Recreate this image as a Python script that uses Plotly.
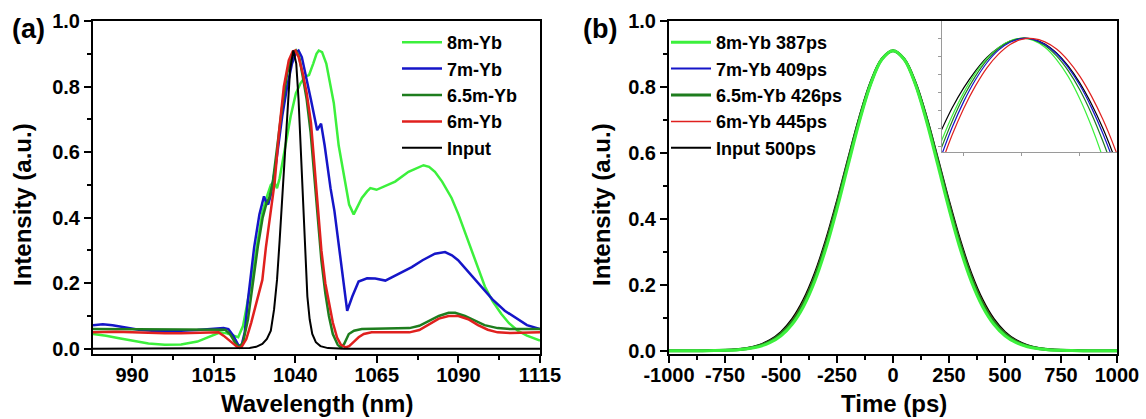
import plotly.graph_objects as go

# ---------------- Panel (a): spectra ----------------
series_a = ["8m-Yb", "7m-Yb", "6.5m-Yb", "6m-Yb", "Input"]

wl_8m = [978, 982, 986, 990, 995, 1000, 1005, 1010, 1014, 1017, 1019, 1021, 1022.5, 1024, 1025.5,
         1027, 1028.5, 1030, 1031.5, 1032.5, 1033.5, 1034.4, 1035.2, 1036.5, 1038.6, 1040.2, 1041.6,
         1043, 1044.2, 1045.5, 1046.5, 1047.2, 1048.2, 1049.5, 1050.5, 1051.8, 1053.3, 1055, 1056.5,
         1057.9, 1059, 1060.4, 1062, 1063, 1064.9, 1067, 1070.6, 1074.7, 1077, 1079.3, 1081, 1082.8,
         1085, 1087.9, 1090, 1093, 1095.5, 1098.1, 1100.5, 1103.1, 1105.5, 1108.2, 1111, 1115]
int_8m = [0.045, 0.040, 0.032, 0.024, 0.016, 0.012, 0.013, 0.022, 0.037, 0.050, 0.047, 0.040, 0.035,
          0.070, 0.150, 0.230, 0.330, 0.420, 0.470, 0.500, 0.510, 0.490, 0.520, 0.590, 0.710, 0.780,
          0.810, 0.830, 0.835, 0.870, 0.900, 0.910, 0.905, 0.870, 0.820, 0.750, 0.620, 0.520, 0.440,
          0.410, 0.430, 0.460, 0.480, 0.490, 0.485, 0.495, 0.510, 0.540, 0.550, 0.560, 0.555, 0.540,
          0.510, 0.460, 0.410, 0.330, 0.260, 0.190, 0.145, 0.107, 0.078, 0.055, 0.040, 0.025]

wl_7m = [978, 981, 984, 988, 992, 996, 1000, 1005, 1010, 1015, 1018, 1019.5, 1021, 1022.5, 1023.5,
         1024.5, 1025.5, 1027.4, 1029, 1030.4, 1031, 1031.7, 1032.5, 1034, 1036, 1037.5, 1039, 1040.3,
         1041, 1042, 1043.2, 1044.8, 1046.7, 1047.9, 1049, 1050.8, 1052, 1054, 1055.9, 1057.5, 1059.4,
         1062, 1064.5, 1067.6, 1071, 1075.7, 1079, 1082.8, 1085.9, 1088, 1089.9, 1093, 1097, 1100.5,
         1104.2, 1108, 1111, 1115]
int_7m = [0.072, 0.075, 0.072, 0.064, 0.058, 0.055, 0.054, 0.055, 0.057, 0.060, 0.063, 0.060, 0.040,
          0.012, 0.008, 0.050, 0.150, 0.310, 0.410, 0.465, 0.450, 0.440, 0.470, 0.560, 0.710, 0.800,
          0.870, 0.905, 0.910, 0.890, 0.830, 0.760, 0.667, 0.687, 0.620, 0.490, 0.420, 0.260, 0.116,
          0.160, 0.205, 0.215, 0.214, 0.208, 0.225, 0.249, 0.270, 0.290, 0.295, 0.285, 0.270, 0.235,
          0.190, 0.150, 0.116, 0.090, 0.072, 0.060]

wl_65m = [978, 990, 1000, 1010, 1016, 1018.5, 1020, 1021.5, 1022.8, 1024, 1025.5, 1027, 1028.5, 1030,
          1031.2, 1032, 1033, 1034.5, 1036, 1037.5, 1039, 1040.2, 1041.2, 1042.3, 1043.5, 1044.7,
          1045.7, 1046.7, 1048, 1049.2, 1050.3, 1051.5, 1053, 1054, 1055, 1056.4, 1058, 1060.4, 1065,
          1070, 1075, 1078, 1081, 1084, 1087, 1089, 1092, 1095, 1098, 1102, 1106, 1110, 1115]
int_65m = [0.060, 0.060, 0.060, 0.060, 0.060, 0.058, 0.045, 0.020, 0.004, 0.020, 0.090, 0.200, 0.310,
           0.400, 0.445, 0.460, 0.500, 0.620, 0.740, 0.840, 0.895, 0.910, 0.890, 0.830, 0.760, 0.660,
           0.540, 0.410, 0.270, 0.170, 0.100, 0.045, 0.012, 0.003, 0.015, 0.045, 0.055, 0.060, 0.061,
           0.060, 0.063, 0.070, 0.085, 0.100, 0.110, 0.110, 0.100, 0.085, 0.072, 0.063, 0.060, 0.060,
           0.060]

wl_6m = [978, 985, 990, 995, 1000, 1005, 1010, 1014, 1016.5, 1018, 1019.5, 1021, 1022.5, 1023.5, 1025,
         1026.5, 1028, 1029.9, 1031, 1032.5, 1033.7, 1035, 1036.5, 1038, 1039.2, 1040, 1041, 1042.3,
         1043.5, 1044.8, 1045.8, 1046.8, 1048, 1049.2, 1050.3, 1051.5, 1052.8, 1054, 1055.4, 1056.5,
         1058, 1059.4, 1061, 1063.4, 1066, 1070, 1075, 1078, 1081, 1084, 1087, 1090, 1093, 1096, 1099,
         1102, 1106, 1110, 1115]
int_6m = [0.050, 0.052, 0.050, 0.048, 0.047, 0.047, 0.048, 0.050, 0.050, 0.040, 0.028, 0.014, 0.003,
          0.005, 0.030, 0.080, 0.140, 0.210, 0.310, 0.430, 0.510, 0.660, 0.800, 0.880, 0.907, 0.910,
          0.890, 0.840, 0.780, 0.690, 0.570, 0.440, 0.300, 0.200, 0.140, 0.080, 0.034, 0.012, 0.004,
          0.008, 0.022, 0.035, 0.045, 0.050, 0.050, 0.049, 0.050, 0.057, 0.075, 0.092, 0.100, 0.100,
          0.090, 0.072, 0.058, 0.050, 0.048, 0.048, 0.050]

wl_in = [978, 1020, 1026, 1028, 1029.9, 1031.3, 1032.5, 1033.5, 1034.4, 1035.2, 1036, 1036.8, 1037.6,
         1038.4, 1039.4, 1040.3, 1041, 1041.7, 1042.4, 1043, 1043.7, 1044.4, 1045.2, 1046.3, 1047.7,
         1050, 1055, 1115]
int_in = [0.0, 0.0, 0.002, 0.006, 0.015, 0.030, 0.055, 0.120, 0.210, 0.330, 0.460, 0.600, 0.740,
          0.850, 0.910, 0.870, 0.760, 0.600, 0.430, 0.300, 0.160, 0.090, 0.045, 0.020, 0.008, 0.002,
          0.0, 0.0]

wl_ticks = [990, 1015, 1040, 1065, 1090, 1115]

# ---------------- Panel (b): temporal profiles ----------------
series_b = ["8m-Yb 387ps", "7m-Yb 409ps", "6.5m-Yb 426ps", "6m-Yb 445ps", "Input 500ps"]
t_ps = [-1000, -950, -900, -850, -800, -750, -700, -650, -600, -550, -500, -450, -400, -350, -300,
        -250, -200, -150, -100, -50, 0, 50, 100, 150, 200, 250, 300, 350, 400, 450, 500, 550, 600,
        650, 700, 750, 800, 850, 900, 950, 1000]
p_8m = [0.0, 0.0, 0.0, 0.0001, 0.0004, 0.0011, 0.0025, 0.0057, 0.0121, 0.0242, 0.0454, 0.0802,
        0.1335, 0.2094, 0.3092, 0.4300, 0.5633, 0.6947, 0.8072, 0.8832, 0.9100, 0.8832, 0.8072,
        0.6947, 0.5633, 0.4300, 0.3092, 0.2094, 0.1335, 0.0802, 0.0454, 0.0242, 0.0121, 0.0057,
        0.0025, 0.0011, 0.0004, 0.0001, 0.0, 0.0, 0.0]
p_7m = [0.0, 0.0, 0.0, 0.0002, 0.0005, 0.0012, 0.0029, 0.0063, 0.0132, 0.0259, 0.0481, 0.0840,
        0.1385, 0.2153, 0.3156, 0.4363, 0.5684, 0.6984, 0.8090, 0.8836, 0.9100, 0.8836, 0.8090,
        0.6984, 0.5684, 0.4363, 0.3156, 0.2153, 0.1385, 0.0840, 0.0481, 0.0259, 0.0132, 0.0063,
        0.0029, 0.0012, 0.0005, 0.0002, 0.0, 0.0, 0.0]
p_65m = [0.0, 0.0, 0.0, 0.0002, 0.0006, 0.0014, 0.0032, 0.0069, 0.0143, 0.0278, 0.0509, 0.0880,
         0.1437, 0.2214, 0.3222, 0.4424, 0.5736, 0.7020, 0.8108, 0.8842, 0.9100, 0.8842, 0.8108,
         0.7020, 0.5736, 0.4424, 0.3222, 0.2214, 0.1437, 0.0880, 0.0509, 0.0278, 0.0143, 0.0069,
         0.0032, 0.0014, 0.0006, 0.0002, 0.0, 0.0, 0.0]
p_6m = [0.0, 0.0, 0.0001, 0.0003, 0.0007, 0.0016, 0.0036, 0.0076, 0.0155, 0.0297, 0.0538, 0.0921,
        0.1489, 0.2276, 0.3287, 0.4487, 0.5788, 0.7054, 0.8126, 0.8846, 0.9100, 0.8846, 0.8126,
        0.7054, 0.5788, 0.4487, 0.3287, 0.2276, 0.1489, 0.0921, 0.0538, 0.0297, 0.0155, 0.0076,
        0.0036, 0.0016, 0.0007, 0.0003, 0.0001, 0.0, 0.0]
p_in = [0.0, 0.0, 0.0001, 0.0003, 0.0008, 0.0018, 0.0040, 0.0084, 0.0168, 0.0318, 0.0569, 0.0963,
        0.1544, 0.2339, 0.3354, 0.4550, 0.5840, 0.7091, 0.8144, 0.8851, 0.9100, 0.8851, 0.8144,
        0.7091, 0.5840, 0.4550, 0.3354, 0.2339, 0.1544, 0.0963, 0.0569, 0.0318, 0.0168, 0.0084,
        0.0040, 0.0018, 0.0008, 0.0003, 0.0001, 0.0, 0.0]
t_tick_vals = [-1000, -750, -500, -250, 0, 250, 500, 750, 1000]
t_tick_text = ["-1000", "-750", "-500", "-250", "0", "250", "500", "750", "1000"]

# inset: zoom of the pulse top
inset_t = [-70, -60, -50, -40, -30, -20, -10, 0, 10, 20, 30, 40, 50, 60, 70, 80, 90]
ins_8m = [0.8808, 0.8884, 0.8949, 0.9003, 0.9044, 0.9074, 0.9093, 0.9100, 0.9094, 0.9075, 0.9041,
          0.8994, 0.8932, 0.8856, 0.8767, 0.8663, 0.8546]
ins_7m = [0.8767, 0.8852, 0.8924, 0.8984, 0.9032, 0.9067, 0.9089, 0.9099, 0.9097, 0.9083, 0.9057,
          0.9019, 0.8970, 0.8908, 0.8835, 0.8750, 0.8653]
ins_65m = [0.8789, 0.8869, 0.8938, 0.8994, 0.9039, 0.9071, 0.9091, 0.9100, 0.9096, 0.9080, 0.9051,
           0.9010, 0.8957, 0.8891, 0.8813, 0.8723, 0.8620]
ins_6m = [0.8744, 0.8831, 0.8905, 0.8967, 0.9018, 0.9056, 0.9083, 0.9097, 0.9099, 0.9090, 0.9070,
          0.9038, 0.8995, 0.8940, 0.8874, 0.8796, 0.8707]
ins_in = [0.8839, 0.8906, 0.8962, 0.9009, 0.9047, 0.9074, 0.9092, 0.9100, 0.9097, 0.9084, 0.9059,
          0.9023, 0.8976, 0.8918, 0.8849, 0.8768, 0.8676]

colors = ["#3cf03c", "#1515c8", "#1e7d1e", "#e0201e", "#000000"]
FONT = "Liberation Sans, Arial, sans-serif"

fig = go.Figure()

wl_data = [(wl_8m, int_8m), (wl_7m, int_7m), (wl_65m, int_65m), (wl_6m, int_6m), (wl_in, int_in)]
for i, (name, (xs, ys)) in enumerate(zip(series_a, wl_data)):
    fig.add_trace(go.Scatter(x=xs, y=ys, mode="lines", name=name,
                             line=dict(color=colors[i], width=2.5 if i < 4 else 2),
                             xaxis="x", yaxis="y", legend="legend", legendrank=i + 1))

p_data = [p_8m, p_7m, p_65m, p_6m, p_in]
widths_b = [3, 2, 3, 1.5, 2]
for i in [4, 3, 1, 2, 0]:
    fig.add_trace(go.Scatter(x=t_ps, y=p_data[i], mode="lines", name=series_b[i],
                             line=dict(color=colors[i], width=widths_b[i], shape="spline"),
                             xaxis="x2", yaxis="y2", legend="legend2", legendrank=i + 1))

ins_data = [ins_8m, ins_7m, ins_65m, ins_6m, ins_in]
for i in [4, 0, 2, 1, 3]:
    fig.add_trace(go.Scatter(x=inset_t, y=ins_data[i], mode="lines", showlegend=False,
                             line=dict(color=colors[i], width=1.2, shape="spline"),
                             xaxis="x3", yaxis="y3", hoverinfo="skip"))

W, H = 1146, 419
def px_x(p):
    return p / W
def px_y(p):
    return 1 - p / H

tickfont = dict(family=FONT, size=20, color="black", weight="bold")
common = dict(showline=True, mirror=True, linecolor="black", linewidth=2, showgrid=False,
              zeroline=False, ticks="outside", ticklen=7, tickwidth=2, tickcolor="black",
              tickfont=tickfont, automargin=False)

fig.update_layout(
    template="none",
    width=W, height=H, margin=dict(l=0, r=0, t=0, b=0, pad=0, autoexpand=False),
    paper_bgcolor="white", plot_bgcolor="white",
    font=dict(family=FONT, color="black"),
    xaxis=dict(domain=[px_x(93), px_x(540)], range=[978, 1115], anchor="y",
               tickmode="array", tickvals=wl_ticks, ticklabelstandoff=-5,
               minor=dict(tickmode="linear", tick0=990, dtick=12.5, ticks="outside", ticklen=4,
                          tickwidth=2, tickcolor="black", showgrid=False), **common),
    yaxis=dict(domain=[px_y(354), px_y(21)], range=[-0.016, 1.0], anchor="x",
               tickmode="linear", tick0=0, dtick=0.2, tickformat=".1f",
               minor=dict(tickmode="linear", tick0=0, dtick=0.1, ticks="outside", ticklen=4,
                          tickwidth=2, tickcolor="black", showgrid=False), **common),
    xaxis2=dict(domain=[px_x(669), px_x(1117)], range=[-1000, 1000], anchor="y2",
                tickmode="array", tickvals=t_tick_vals, ticktext=t_tick_text, ticklabelstandoff=-5,
                minor=dict(tickmode="linear", tick0=-1000, dtick=125, ticks="outside", ticklen=4,
                           tickwidth=2, tickcolor="black", showgrid=False), **common),
    yaxis2=dict(domain=[px_y(354), px_y(21)], range=[-0.01, 1.0], anchor="x2",
                tickmode="linear", tick0=0, dtick=0.2, tickformat=".1f",
                minor=dict(tickmode="linear", tick0=0, dtick=0.1, ticks="outside", ticklen=4,
                           tickwidth=2, tickcolor="black", showgrid=False), **common),
    xaxis3=dict(domain=[px_x(942), px_x(1117)], range=[-68.7, 82.1], anchor="y3",
                showline=True, linecolor="#9a9a9a", linewidth=1, mirror=False, showgrid=False,
                zeroline=False, ticks="outside", ticklen=3, tickwidth=1, tickcolor="#9a9a9a",
                tickmode="linear", tick0=0, dtick=50, showticklabels=False, automargin=False),
    yaxis3=dict(domain=[px_y(152), px_y(21)], range=[0.8784, 0.9148], anchor="x3",
                showline=True, linecolor="#9a9a9a", linewidth=1, mirror=False, showgrid=False,
                zeroline=False, ticks="outside", ticklen=3, tickwidth=1, tickcolor="#9a9a9a",
                tickmode="linear", tick0=0.88, dtick=0.005, showticklabels=False, automargin=False),
    legend=dict(x=px_x(397), y=px_y(24), xanchor="left", yanchor="top",
                bgcolor="rgba(0,0,0,0)", borderwidth=0, itemwidth=40, tracegroupgap=0,
                font=dict(family=FONT, size=18, color="black", weight="bold")),
    legend2=dict(x=px_x(666), y=px_y(24), xanchor="left", yanchor="top",
                 bgcolor="rgba(0,0,0,0)", borderwidth=0, itemwidth=40, tracegroupgap=0,
                 font=dict(family=FONT, size=18, color="black", weight="bold")),
    showlegend=True,
)

title_font = dict(family=FONT, size=24, color="black", weight="bold")
annots = [
    dict(text="(a)", x=px_x(28), y=px_y(29), font=dict(family=FONT, size=27, color="black", weight="bold")),
    dict(text="(b)", x=px_x(600), y=px_y(29), font=dict(family=FONT, size=27, color="black", weight="bold")),
    dict(text="Wavelength (nm)", x=px_x(317), y=px_y(403), font=title_font),
    dict(text="Time (ps)", x=px_x(894), y=px_y(403), font=title_font),
    dict(text="Intensity (a.u.)", x=px_x(22), y=px_y(205), textangle=-90, font=title_font),
    dict(text="Intensity (a.u.)", x=px_x(601), y=px_y(205), textangle=-90, font=title_font),
]
for a in annots:
    fig.add_annotation(xref="paper", yref="paper", showarrow=False, xanchor="center",
                       yanchor="middle", **a)

fig.write_html("out.html", config={"displayModeBar": False},
               post_script="document.body.style.margin='0';document.body.style.overflow='hidden';")
